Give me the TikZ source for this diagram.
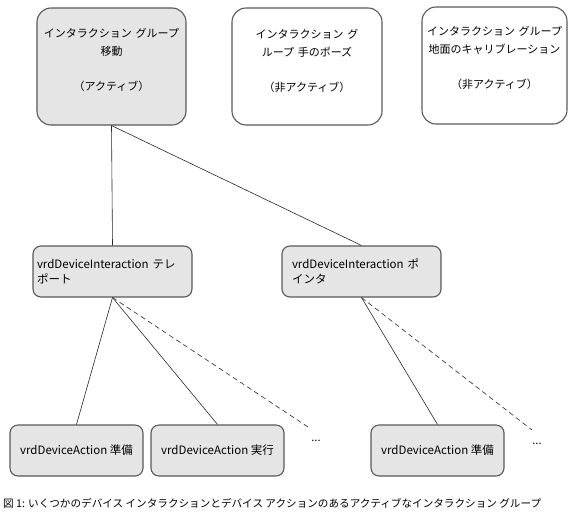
\documentclass[tikz,border=0pt]{standalone}
\usepackage{fontspec}
\setmainfont{Noto Sans CJK JP}
\begin{document}
\begin{tikzpicture}[x=1pt,y=-1pt,
  groupbox/.style={draw=black!65,line width=1.1pt,rounded corners=14pt,minimum height=117pt,inner sep=3pt,align=center,font=\fontsize{11}{17.5}\selectfont},
  devbox/.style={draw=black!65,line width=1.1pt,fill=black!10,rounded corners=8pt,minimum height=51pt,inner sep=4pt,font=\fontsize{11.5}{15}\selectfont},
  link/.style={draw=black!85,line width=0.6pt},
  morelink/.style={link,dash pattern=on 5pt off 3.5pt}]
\useasboundingbox (0,0) rectangle (577,517);

% Interaction groups
\node[groupbox,fill=black!10,text width=143pt] (move) at (111.5,66.5) {インタラクション グループ\\移動\\[17.5pt]（アクティブ）\\[-3pt]\mbox{}};
\node[groupbox,text width=144pt] (handpose) at (307,66.5) {インタラクション グ\\ループ 手のポーズ\\[17.5pt]（非アクティブ）\\[-5pt]\mbox{}};
\node[groupbox,text width=139pt] (calib) at (494.5,65.5) {インタラクション グループ\\地面のキャリブレーション\\[17.5pt]（非アクティブ）\\[-1pt]\mbox{}};

% Device interactions
\node[devbox,text width=151pt,align=left] (teleport) at (112.5,271.5) {vrdDeviceInteraction テレ\\ポート};
\node[devbox,text width=139pt,inner xsep=10pt,align=left] (pointer) at (361.5,271.5) {vrdDeviceInteraction ポ\\インタ};

% Device actions
\node[devbox,minimum width=133pt] (tprepare) at (76.5,450.5) {vrdDeviceAction 準備};
\node[devbox,minimum width=133pt] (texecute) at (217.5,450.5) {vrdDeviceAction 実行};
\node[devbox,minimum width=133pt] (pprepare) at (437.5,450.5) {vrdDeviceAction 準備};
\node[font=\fontsize{11}{13}\selectfont] (tmore) at (316,441) {...};
\node[font=\fontsize{11}{13}\selectfont] (pmore) at (537,444) {...};
\coordinate (tmoreend) at (308,427);
\coordinate (pmoreend) at (532,430);

% Connections
\foreach \child in {teleport,pointer} {
  \draw[link] (move.south) -- (\child.north);
}
\foreach \child in {tprepare,texecute} {
  \draw[link] (teleport.south) -- (\child.north);
}
\draw[link] (pointer.south) -- (pprepare.north);
\draw[morelink] (teleport.south) -- (tmoreend);
\draw[morelink] (pointer.south) -- (pmoreend);

% Caption
\node[anchor=west,inner sep=0pt,font=\fontsize{10.6}{12}\selectfont] (caption) at (3,503) {図 1: いくつかのデバイス インタラクションとデバイス アクションのあるアクティブなインタラクション グループ};
\end{tikzpicture}
\end{document}
